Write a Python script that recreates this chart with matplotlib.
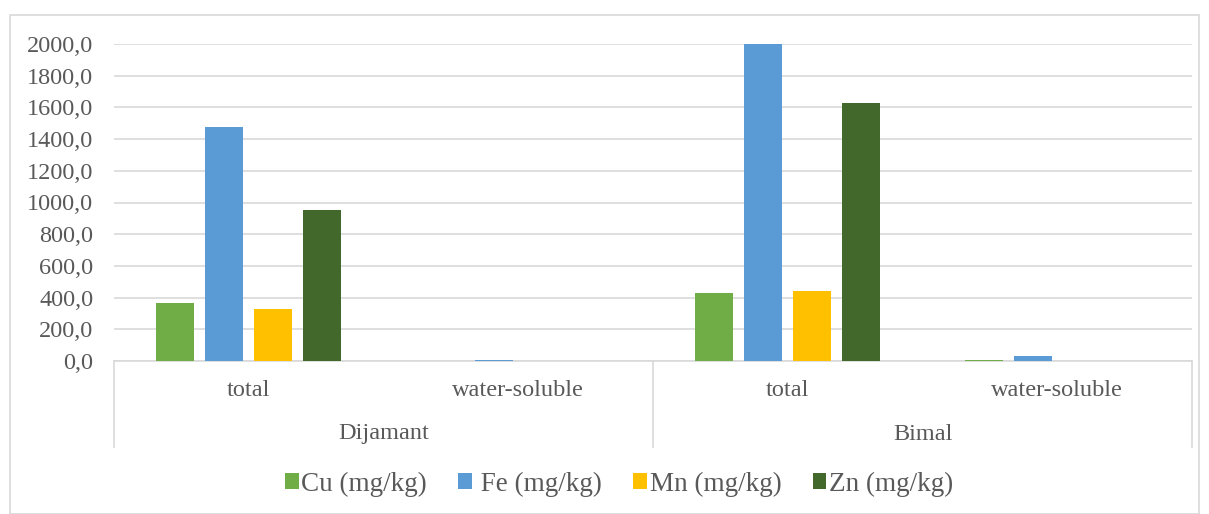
import matplotlib
matplotlib.use("Agg")
import matplotlib.pyplot as plt
from matplotlib.patches import Rectangle
from matplotlib.lines import Line2D
import numpy as np

plt.rcParams['font.family'] = ['Liberation Serif', 'DejaVu Serif']

groups = ["Dijamant", "Bimal"]
subcats = ["total", "water-soluble", "total", "water-soluble"]
series = ["Cu (mg/kg)", " Fe (mg/kg)", "Mn (mg/kg)", "Zn (mg/kg)"]
cu = [366, 1, 429, 6]
fe = [1476, 8, 2000, 32]
mn = [328, 1, 442, 1]
zn = [953, 1, 1628, 3]
colors = ["#70ad47", "#5b9bd5", "#ffc000", "#43682b"]
yticks = [0, 200, 400, 600, 800, 1000, 1200, 1400, 1600, 1800, 2000]

W, H = 1209, 514
fig = plt.figure(figsize=(W/100, H/100), dpi=100)
ax = fig.add_axes([114/W, 1-361/H, (1192-114)/W, 317/H])

txt = "#595959"
grid = "#d9d9d9"
fs = 17.5
x = np.arange(len(subcats))
step = 49/269.5
bw = 38/269.5
for i, (vals, c, name) in enumerate(zip([cu, fe, mn, zn], colors, series)):
    ax.bar(x + (i-1.5)*step, vals, width=bw, color=c, label=name, zorder=3)

ax.set_xlim(-0.5, len(subcats)-0.5)
ax.set_ylim(0, 2000)
ax.set_yticks(yticks)
ax.set_yticklabels([f"{v},0" for v in yticks], fontsize=fs, color=txt)
ax.tick_params(axis='y', length=0, pad=15)
ax.grid(axis='y', color=grid, lw=1.2, zorder=0)
for s in ax.spines.values():
    s.set_visible(False)
ax.set_xticks([])
bt = ax.get_xaxis_transform()
for xi, lab in zip(x, subcats):
    ax.text(xi, -(390-361)/317, lab, transform=bt, ha='center', va='center', fontsize=fs, color=txt)

# hierarchical axis lines
ax.plot([-0.5, len(subcats)-0.5], [0, 0], color=grid, lw=1.2, clip_on=False, zorder=2)
for xb in [-0.5, 1.5, 3.5]:
    ax.add_line(Line2D([xb, xb], [0, -86/317], transform=bt, color=grid, lw=1.2, clip_on=False))
for gi, g in enumerate(groups):
    ax.text(gi*2 + 0.5, -(434-361)/317, g, transform=bt, ha='center', va='center', fontsize=fs, color=txt)

# outer frame
fig.add_artist(Rectangle((10/W, 0), (1199-10)/W, 1-15/H, transform=fig.transFigure,
                         fill=False, edgecolor=grid, lw=1.2))

leg = fig.legend(loc='center', bbox_to_anchor=(619/W, 1-484/H), ncol=4, frameon=False,
                 fontsize=19.5, handlelength=0.5, handleheight=0.5, handletextpad=0.1,
                 columnspacing=1.15)
for t in leg.get_texts():
    t.set_color(txt)

fig.savefig("out.png", dpi=100)
